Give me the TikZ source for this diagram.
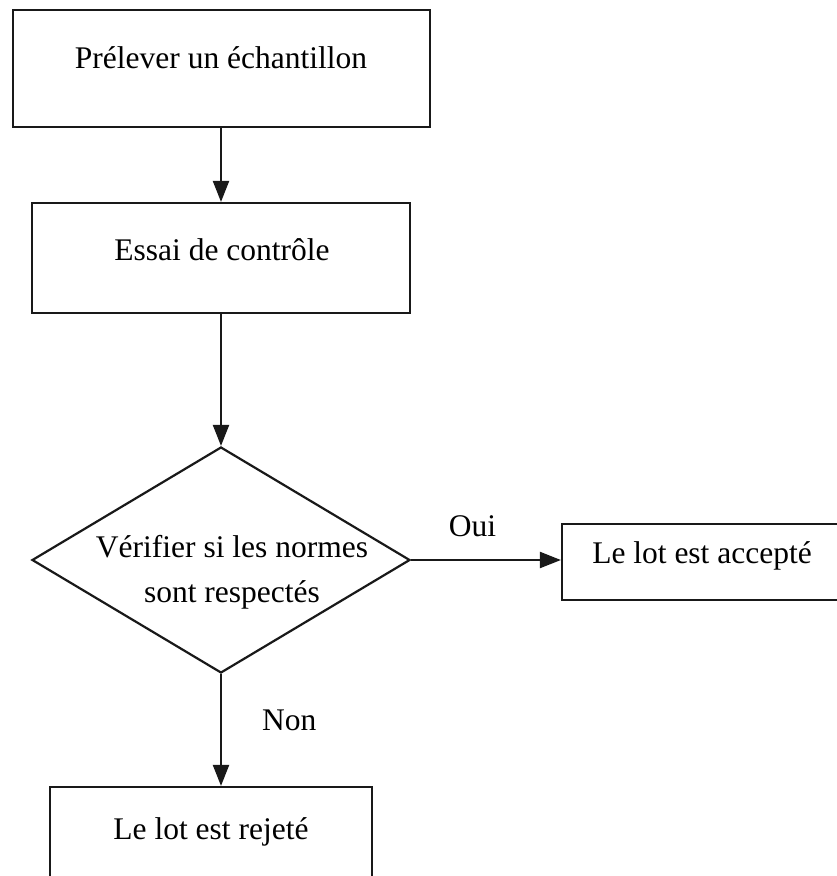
\documentclass[tikz,border=0pt]{standalone}
\usepackage{fontspec}
\setmainfont{Liberation Serif}
\usetikzlibrary{shapes.geometric,arrows.meta}
\begin{document}
\begin{tikzpicture}[x=1pt,y=-1pt,
  box/.style={draw=black!90, line width=2.2pt, rectangle, inner sep=0pt},
  decision/.style={draw=black!90, line width=2.2pt, diamond, inner sep=0pt,
    minimum width=378pt, minimum height=226pt},
  txt/.style={inner sep=0pt, font=\fontsize{31.5}{45}\selectfont, align=center, text=black},
  flow/.style={draw=black!90, line width=2.2pt, -{Triangle[length=21pt,width=16pt]}}]
  \useasboundingbox (0,0) rectangle (837,876);
  % process boxes
  \node[box, minimum width=417pt, minimum height=117pt] (preleve) at (221.5,68.5) {};
  \node[txt] (tpreleve) at (221,58) {Prélever un échantillon};
  \node[box, minimum width=378pt, minimum height=110pt] (essai) at (221,258) {};
  \node[txt] (tessai) at (222,250) {Essai de contrôle};
  % decision
  \node[decision] (verif) at (221,560) {};
  \node[txt] (tverif) at (232,572) {Vérifier si les normes\\sont respectés};
  % outcomes
  \node[box, minimum width=290pt, minimum height=76pt] (accepte) at (707,562) {};
  \node[txt] (taccepte) at (702,556) {Le lot est accepté};
  \node[box, minimum width=322pt, minimum height=130pt] (rejete) at (211,852) {};
  \node[txt] (trejete) at (211,832) {Le lot est rejeté};
  % connectors
  \draw[flow] (preleve.south -| essai.north) -- (essai.north);
  \draw[flow] (essai.south) -- (verif.north);
  \draw[flow] (verif.east) -- (verif.east -| accepte.west)
    node[txt, pos=0.41, above=22pt] (oui) {Oui};
  \draw[flow] (verif.south) -- (verif.south |- rejete.north)
    node[txt, pos=0.41, right=40pt] (non) {Non};
\end{tikzpicture}
\end{document}
